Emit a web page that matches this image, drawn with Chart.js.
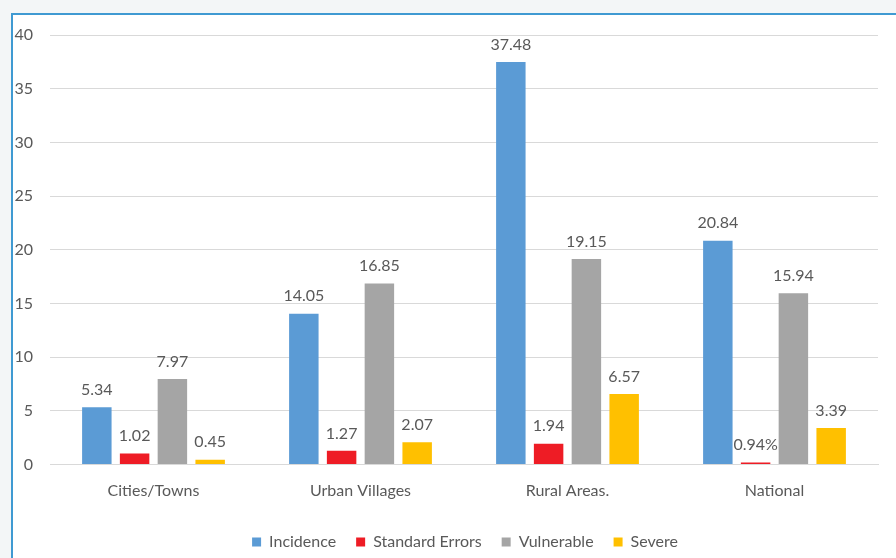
<!DOCTYPE html>
<html>
<head>
<meta charset="utf-8">
<script src="https://cdn.jsdelivr.net/npm/chart.js@4"></script>
<style>
  html, body { margin: 0; padding: 0; }
  body { width: 896px; height: 558px; background: #f3f6f7; position: relative; overflow: hidden; }
  #frame {
    position: absolute; left: 11px; top: 13px; width: 900px; height: 560px;
    background: #ffffff; border-top: 2px solid #3f9ad2; border-left: 2px solid #3f9ad2;
  }
  #chart { position: absolute; left: 0; top: 0; }
</style>
</head>
<body>
<div id="frame"></div>
<canvas id="chart" width="896" height="558"></canvas>
<script>
// Poverty measures by settlement type
const categories = ['Cities/Towns', 'Urban Villages', 'Rural Areas.', 'National'];
const incidence = [5.34, 14.05, 37.48, 20.84];
// the national figure is stored as a share (0.94%)
const standardErrors = [1.02, 1.27, 1.94, 0.0094];
const vulnerable = [7.97, 16.85, 19.15, 15.94];
const severe = [0.45, 2.07, 6.57, 3.39];
const yTicks = [0, 5, 10, 15, 20, 25, 30, 35, 40];

const TEXT = '#595959';
const FONT = 'Lato, "Liberation Sans", sans-serif';

// shares below 0.1 are printed as percentages, everything else with two decimals
function formatValue(v) {
  return v < 0.1 ? (v * 100).toFixed(2) + '%' : v.toFixed(2);
}

// value printed above each bar
const valueLabels = {
  id: 'valueLabels',
  afterDatasetsDraw(chart) {
    const ctx = chart.ctx;
    ctx.save();
    ctx.font = '16px ' + FONT;
    ctx.fillStyle = TEXT;
    ctx.textAlign = 'center';
    ctx.textBaseline = 'middle';
    chart.data.datasets.forEach((ds, i) => {
      chart.getDatasetMeta(i).data.forEach((bar, j) => {
        ctx.fillText(formatValue(ds.data[j]), bar.x, bar.y - 17.5);
      });
    });
    ctx.restore();
  }
};

// centre the legend row under the whole frame rather than the canvas
const legendOffset = {
  id: 'legendOffset',
  afterLayout(chart) {
    const lg = chart.legend;
    if (lg) { lg.left += 26; lg.right += 26; }
  }
};

new Chart(document.getElementById('chart'), {
  type: 'bar',
  data: {
    labels: categories,
    datasets: [
      { label: 'Incidence', data: incidence, backgroundColor: '#5b9bd5' },
      { label: 'Standard Errors', data: standardErrors, backgroundColor: '#ee1c25' },
      { label: 'Vulnerable', data: vulnerable, backgroundColor: '#a5a5a5' },
      { label: 'Severe', data: severe, backgroundColor: '#ffc000' }
    ]
  },
  options: {
    responsive: false,
    animation: false,
    devicePixelRatio: 1,
    layout: { padding: { left: 0, right: 18, top: 35, bottom: -2 } },
    datasets: {
      bar: { categoryPercentage: 0.73, barPercentage: 0.78, minBarLength: 2 }
    },
    scales: {
      x: {
        grid: { display: false, drawTicks: false },
        border: { display: true, color: '#d9d9d9', width: 1 },
        ticks: { color: TEXT, font: { family: FONT, size: 16 }, padding: 17 },
        afterFit(scale) { scale.height = 49.5; }
      },
      y: {
        min: 0, max: 40,
        afterBuildTicks(scale) { scale.ticks = yTicks.map(v => ({ value: v })); },
        grid: { color: '#d9d9d9', lineWidth: 1, drawTicks: false },
        border: { display: false },
        ticks: { color: TEXT, font: { family: FONT, size: 16 }, padding: 17 },
        afterFit(scale) { scale.width = 50; }
      }
    },
    plugins: {
      legend: {
        position: 'bottom',
        labels: {
          color: TEXT, font: { family: FONT, size: 16 },
          boxWidth: 9, boxHeight: 9, padding: 20
        }
      },
      tooltip: { enabled: false }
    }
  },
  plugins: [valueLabels, legendOffset]
});
</script>
</body>
</html>
